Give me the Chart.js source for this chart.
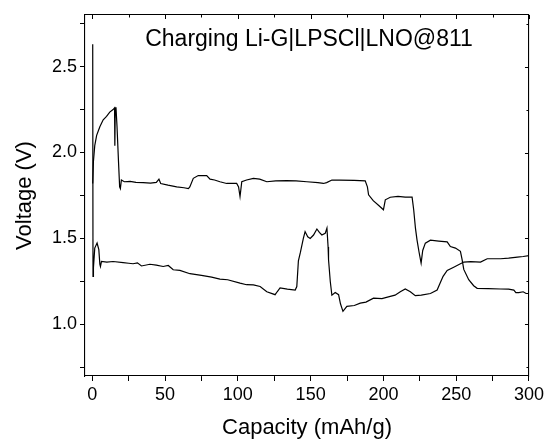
<!DOCTYPE html>
<html>
<head>
<meta charset="utf-8">
<script src="https://cdn.jsdelivr.net/npm/chart.js@4/dist/chart.umd.min.js"></script>
<style>
  html, body { margin: 0; padding: 0; background: #fff; }
  #wrap { width: 547px; height: 443px; }
</style>
</head>
<body>
<div id="wrap"><canvas id="chart"></canvas></div>
<script>
// upper curve (capacity mAh/g, voltage V)
const capA = [0.3, 0.8, 1.7, 3, 5.2, 7.5, 9.8, 12, 14.3, 15.3, 15.5, 15.8, 16.3, 17, 18, 18.8, 19.3, 20, 22, 26, 30, 35, 40, 44, 45.8, 47, 52, 58, 63, 66, 67, 69.4, 72.8, 78.6, 80.9, 84, 87.7, 92.3, 99.2, 100.5, 101.5, 102.7, 106, 110.7, 115, 119.9, 126, 133.6, 140, 147.4, 155, 158.8, 161, 164.6, 170, 180, 187.5, 189, 189.8, 193, 197, 200, 201.3, 204.7, 210, 215, 219.7, 220.8, 222, 223.1, 224.5, 225.9, 227, 228.8, 232.3, 238, 243.8, 246, 249.5, 252.9, 254, 255.2, 258.6, 262, 264.4, 272, 280.5, 286, 289.6, 291, 293, 296, 298, 300];
const voltA = [1.82, 1.95, 2.04, 2.10, 2.15, 2.19, 2.21, 2.235, 2.25, 2.26, 2.04, 2.26, 2.26, 2.15, 1.95, 1.80, 1.79, 1.84, 1.83, 1.832, 1.826, 1.825, 1.822, 1.826, 1.845, 1.82, 1.81, 1.80, 1.795, 1.79, 1.80, 1.85, 1.866, 1.866, 1.845, 1.84, 1.83, 1.82, 1.82, 1.80, 1.744, 1.83, 1.84, 1.85, 1.845, 1.83, 1.835, 1.837, 1.835, 1.83, 1.825, 1.82, 1.825, 1.84, 1.84, 1.838, 1.835, 1.80, 1.754, 1.72, 1.69, 1.667, 1.725, 1.74, 1.745, 1.74, 1.74, 1.667, 1.56, 1.49, 1.42, 1.357, 1.43, 1.473, 1.49, 1.485, 1.48, 1.453, 1.444, 1.425, 1.38, 1.32, 1.26, 1.225, 1.21, 1.208, 1.206, 1.205, 1.20, 1.185, 1.185, 1.19, 1.18, 1.18];

// lower curve
const capB = [0.3, 0.5, 0.8, 1.7, 3.3, 4.5, 5.2, 5.6, 6.3, 10, 14.3, 21.2, 25, 28, 31, 33.8, 39.6, 44, 48.7, 52.2, 55.6, 60.2, 67.1, 75, 82, 87.7, 93, 101.5, 106, 110.7, 115.3, 119.9, 125.6, 127, 129, 134, 139.4, 140.5, 141.6, 143, 145, 146.2, 148, 149.7, 152, 154.3, 156, 157.7, 160, 161.2, 162, 162.3, 163.5, 164.6, 166.9, 169.2, 170.5, 172.2, 174.9, 180, 184.1, 188, 193.2, 199, 204.7, 208, 211.6, 215, 218.5, 221.9, 226, 232.3, 236.9, 239.2, 241, 243.8, 248.3, 252.9, 255.2, 260, 266.7, 271.3, 280.5, 286, 292, 296, 300];
const voltB = [2.63, 1.28, 1.33, 1.444, 1.473, 1.435, 1.35, 1.337, 1.366, 1.362, 1.366, 1.36, 1.356, 1.353, 1.358, 1.34, 1.35, 1.345, 1.337, 1.343, 1.318, 1.314, 1.295, 1.285, 1.275, 1.264, 1.26, 1.24, 1.231, 1.23, 1.221, 1.19, 1.173, 1.19, 1.212, 1.205, 1.20, 1.22, 1.37, 1.42, 1.50, 1.54, 1.51, 1.50, 1.52, 1.555, 1.535, 1.52, 1.53, 1.56, 1.45, 1.376, 1.25, 1.17, 1.186, 1.173, 1.12, 1.076, 1.105, 1.11, 1.124, 1.13, 1.153, 1.15, 1.163, 1.17, 1.19, 1.206, 1.19, 1.167, 1.17, 1.18, 1.20, 1.245, 1.28, 1.314, 1.333, 1.353, 1.363, 1.365, 1.363, 1.382, 1.382, 1.386, 1.392, 1.395, 1.40];

const xTicks = [0, 25, 50, 75, 100, 125, 150, 175, 200, 225, 250, 275, 300];
const yTicks = [0.75, 1.0, 1.25, 1.5, 1.75, 2.0, 2.25, 2.5, 2.75];
const xLabeled = [0, 50, 100, 150, 200, 250, 300];
const yLabeled = [1.0, 1.5, 2.0, 2.5];

const chartTitle = 'Charging Li-G|LPSCl|LNO@811';
const FONT = '"Liberation Sans", Arial, sans-serif';

function toPoints(xs, ys) {
    return xs.map((x, i) => ({ x: x, y: ys[i] }));
}

// title inside the frame + inward ticks on top/right edges
const framePlugin = {
    id: 'frame',
    afterDraw(chart) {
        const { ctx, chartArea: a, scales } = chart;
        ctx.save();
        ctx.strokeStyle = '#000';
        ctx.lineWidth = 1;
        ctx.beginPath();
        xTicks.forEach(v => {
            const px = Math.round(scales.x.getPixelForValue(v)) + 0.5;
            const len = xLabeled.includes(v) ? 4 : 2.5;
            ctx.moveTo(px, a.top);
            ctx.lineTo(px, a.top + len);
        });
        yTicks.forEach(v => {
            const py = Math.round(scales.y.getPixelForValue(v)) + 0.5;
            const len = yLabeled.includes(v) ? 4 : 2.5;
            ctx.moveTo(a.right, py);
            ctx.lineTo(a.right - len, py);
        });
        ctx.stroke();
        ctx.fillStyle = '#000';
        ctx.font = '23px ' + FONT;
        ctx.textAlign = 'center';
        ctx.textBaseline = 'middle';
        ctx.fillText(chartTitle, 309, 40);
        ctx.restore();
    }
};

new Chart(document.getElementById('chart'), {
    type: 'line',
    data: {
        datasets: [
            { data: toPoints(capA, voltA), borderColor: '#000', borderWidth: 1.2, pointRadius: 0, tension: 0, fill: false },
            { data: toPoints(capB, voltB), borderColor: '#000', borderWidth: 1.2, pointRadius: 0, tension: 0, fill: false }
        ]
    },
    options: {
        responsive: true,
        maintainAspectRatio: false,
        animation: false,
        events: [],
        layout: { padding: { left: 12, right: 18, top: 15, bottom: 2 } },
        plugins: { legend: { display: false }, tooltip: { enabled: false } },
        scales: {
            x: {
                type: 'linear',
                min: -5,
                max: 300,
                afterBuildTicks: s => { s.ticks = xTicks.map(v => ({ value: v })); },
                afterFit: s => { s.height = 65; },
                border: { display: true, color: '#000', width: 1.1 },
                grid: { drawOnChartArea: false, drawTicks: true, tickLength: 5, color: '#000' },
                ticks: {
                    color: '#000',
                    font: { family: FONT, size: 18 },
                    padding: 3,
                    maxRotation: 0,
                    autoSkip: false,
                    callback: v => xLabeled.includes(v) ? String(v) : ''
                },
                title: { display: true, text: 'Capacity (mAh/g)', color: '#000', font: { family: FONT, size: 22 }, padding: { top: 7, bottom: 0 } }
            },
            y: {
                type: 'linear',
                min: 0.7,
                max: 2.8,
                afterBuildTicks: s => { s.ticks = yTicks.map(v => ({ value: v })); },
                afterFit: s => { s.width = 73; },
                border: { display: true, color: '#000', width: 1.1 },
                grid: { drawOnChartArea: false, drawTicks: true, tickLength: 5, color: '#000' },
                ticks: {
                    color: '#000',
                    font: { family: FONT, size: 18 },
                    padding: 3,
                    autoSkip: false,
                    callback: v => yLabeled.includes(v) ? v.toFixed(1) : ''
                },
                title: { display: true, text: 'Voltage (V)', color: '#000', font: { family: FONT, size: 22 }, padding: { top: 0, bottom: 2 } }
            },
            x2: {
                type: 'linear', position: 'top', min: -5, max: 300,
                afterFit: s => { s.height = 0; },
                border: { display: true, color: '#000', width: 1.1 },
                grid: { display: false }, ticks: { display: false }
            },
            y2: {
                type: 'linear', position: 'right', min: 0.7, max: 2.8,
                afterFit: s => { s.width = 0; },
                border: { display: true, color: '#000', width: 1.1 },
                grid: { display: false }, ticks: { display: false }
            }
        }
    },
    plugins: [framePlugin]
});
</script>
</body>
</html>
